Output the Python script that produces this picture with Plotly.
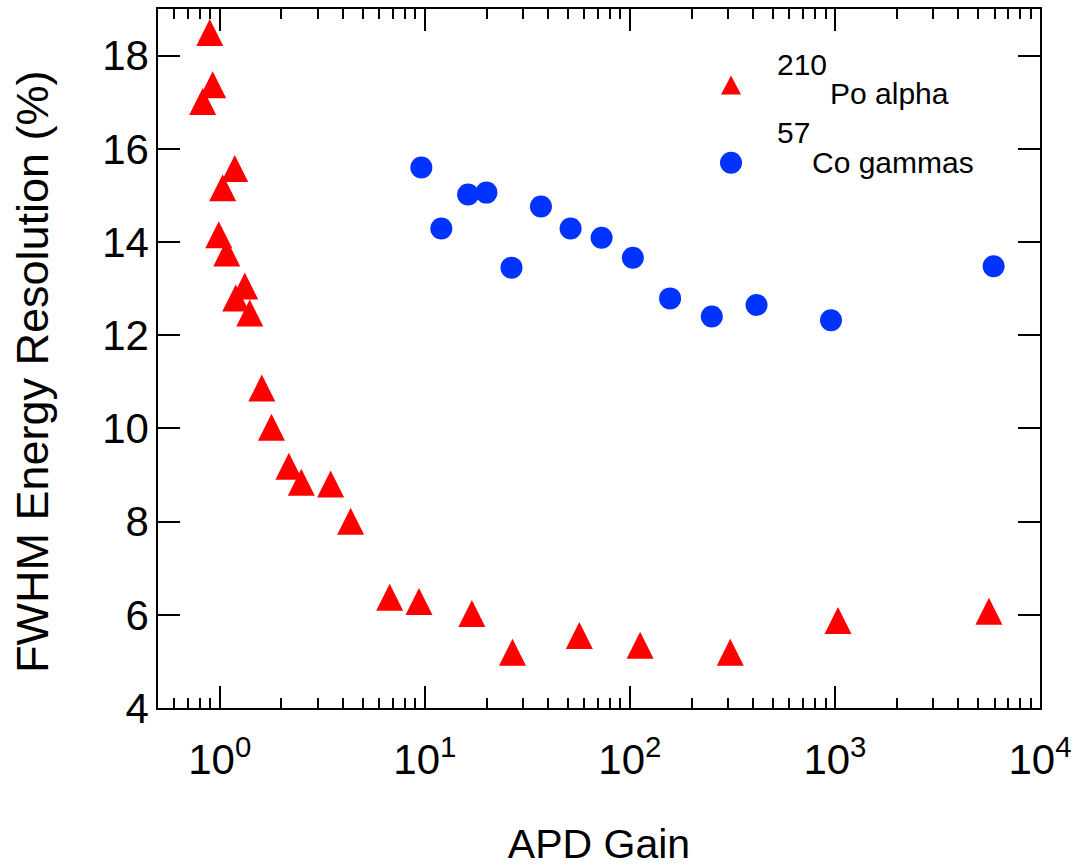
import plotly.graph_objects as go
import numpy as np

# 210Po alpha data (APD gain, FWHM resolution %)
alpha_gain = [0.894, 0.924, 0.826, 1.184, 1.034, 0.989, 1.082, 1.325, 1.197, 1.401,
              1.604, 1.789, 2.173, 2.50, 3.474, 4.35, 6.74, 9.37, 16.96, 26.77,
              56.7, 112.2, 308.7, 1035, 5636]
alpha_res = [18.40, 17.28, 16.92, 15.48, 15.07, 14.06, 13.67, 12.96, 12.70, 12.38,
             10.77, 9.93, 9.09, 8.75, 8.71, 7.91, 6.28, 6.19, 5.93, 5.10,
             5.46, 5.25, 5.10, 5.78, 5.98]

# 57Co gamma data
gamma_gain = [9.62, 12.04, 16.26, 19.98, 26.47, 36.84, 51.4, 72.8, 103.4, 157.1,
              250.9, 414.8, 956.6, 5941]
gamma_res = [15.60, 14.29, 15.02, 15.06, 13.45, 14.76, 14.29, 14.09, 13.66, 12.79,
             12.40, 12.65, 12.32, 13.48]

x_tickvals = [1, 10, 100, 1000, 10000]
x_ticktext = ["10<sup>0</sup>", "10<sup>1</sup>", "10<sup>2</sup>", "10<sup>3</sup>", "10<sup>4</sup>"]
y_tickvals = [4, 6, 8, 10, 12, 14, 16, 18]

minor_vals = [m * 10.0 ** e for e in range(-1, 4) for m in range(2, 10) if 0.5 <= m * 10.0 ** e <= 10000]

FONT = "Arial, Liberation Sans, sans-serif"
RED = "#FF0000"
BLUE = "#0033FF"

fig = go.Figure()
fig.add_trace(go.Scatter(x=alpha_gain, y=alpha_res, mode="markers", name="",
                         marker=dict(symbol="triangle-up", size=24, color=RED, line=dict(width=0))))
fig.add_trace(go.Scatter(x=gamma_gain, y=gamma_res, mode="markers", name="",
                         marker=dict(symbol="circle", size=22, color=BLUE, line=dict(width=0))))

axis_common = dict(showline=True, linecolor="black", linewidth=1.5, mirror="ticks",
                   ticks="inside", tickwidth=1.5, tickcolor="black", showgrid=False,
                   zeroline=False, tickfont=dict(family=FONT, size=42, color="black"))

fig.update_xaxes(type="log", range=[np.log10(0.5), 4], tickvals=x_tickvals, ticktext=x_ticktext,
                 ticklen=22, ticklabelstandoff=14,
                 minor=dict(tickvals=minor_vals, ticks="inside", ticklen=10, tickwidth=1.5,
                            tickcolor="black", showgrid=False),
                 title=dict(text="APD Gain", font=dict(family=FONT, size=41, color="black"), standoff=56),
                 **axis_common)
fig.update_yaxes(range=[4, 19], tickvals=y_tickvals, ticklen=22, ticklabelstandoff=-1,
                 **axis_common)

# y-axis title
fig.add_annotation(text="FWHM Energy Resolution (%)", x=-0.1429, y=0.482, xref="paper", yref="paper",
                   xanchor="center", yanchor="middle", textangle=-90, showarrow=False,
                   font=dict(family=FONT, size=45, color="black"))

annots = [
    dict(text="210", x=0.6995, y=0.9213),
    dict(text="Po alpha", x=0.7596, y=0.8784),
    dict(text="57", x=0.6995, y=0.824),
    dict(text="Co gammas", x=0.7392, y=0.7797),
]
for a in annots:
    fig.add_annotation(text=a["text"], x=a["x"], y=a["y"], xref="paper", yref="paper",
                       xanchor="left", yanchor="middle", showarrow=False,
                       font=dict(family=FONT, size=30, color="black"))

fig.update_layout(
    width=1074, height=867,
    margin=dict(l=158, r=34, t=9, b=159, autoexpand=False),
    paper_bgcolor="white", plot_bgcolor="white",
    showlegend=True,
    legend=dict(x=0.627, y=0.947, xanchor="left", yanchor="top", bgcolor="rgba(0,0,0,0)",
                font=dict(family=FONT, size=55), tracegroupgap=0),
)

post = """
var gd = document.getElementById('{plot_id}');
function fixMarkers(){
  var traces = gd.querySelectorAll('.scatterlayer .trace');
  if (traces.length > 0) {
    traces[0].querySelectorAll('path.point').forEach(function(p){ p.setAttribute('d','M-13.5,9H13.5L0,-18Z'); });
  }
  var leg = gd.querySelectorAll('.legend .traces');
  if (leg.length > 1) {
    leg[0].querySelectorAll('path.scatterpts').forEach(function(p){ p.setAttribute('d','M-10,6.3H10L0,-12.7Z'); });
    leg[1].querySelectorAll('path.scatterpts').forEach(function(p){ p.setAttribute('d','M11,0A11,11 0 1,1 0,-11A11,11 0 0,1 11,0Z'); });
  }
}
fixMarkers();
gd.on('plotly_afterplot', fixMarkers);
"""

fig.write_html("out.html", post_script=post, config={"displayModeBar": False})
